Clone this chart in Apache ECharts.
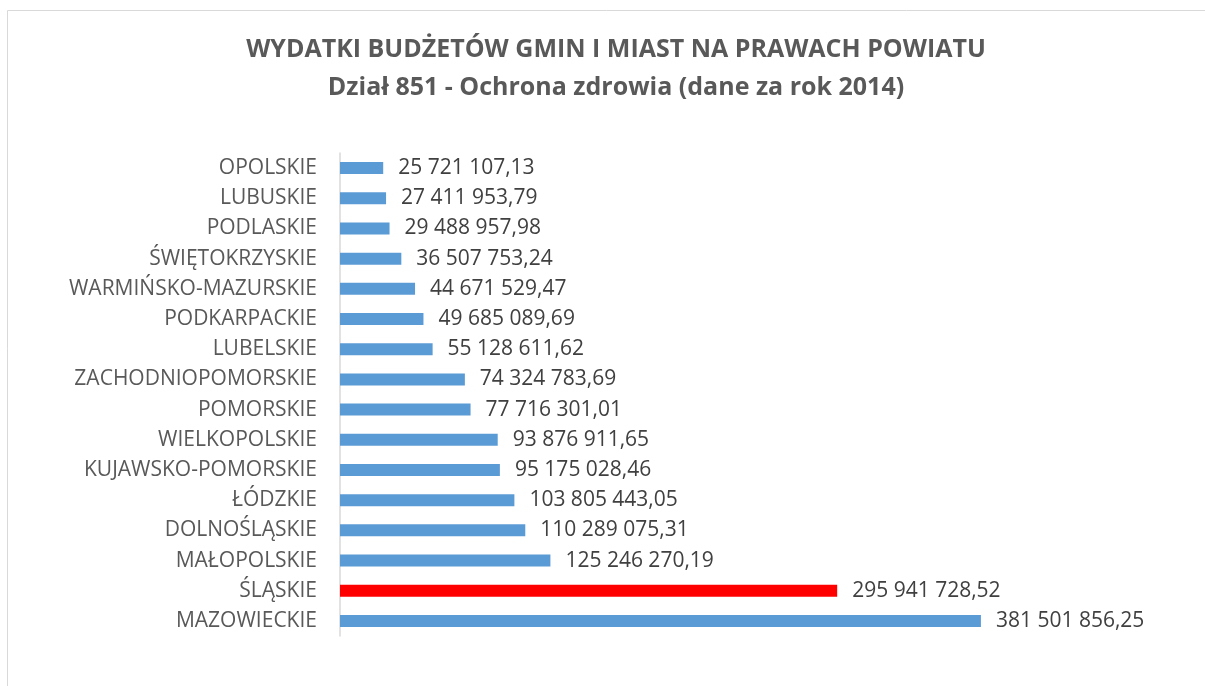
<!DOCTYPE html>
<html>
<head>
<meta charset="utf-8">
<script src="https://cdn.jsdelivr.net/npm/echarts@6/dist/echarts.min.js"></script>
<style>
  * { margin: 0; padding: 0; }
  html, body { background: #fff; }
  #chart { width: 1205px; height: 686px; }
</style>
</head>
<body>
<div id="chart"></div>
<script>
// wojewodztwa, top to bottom as drawn
const regions = [
  'OPOLSKIE', 'LUBUSKIE', 'PODLASKIE', 'ŚWIĘTOKRZYSKIE', 'WARMIŃSKO-MAZURSKIE',
  'PODKARPACKIE', 'LUBELSKIE', 'ZACHODNIOPOMORSKIE', 'POMORSKIE', 'WIELKOPOLSKIE',
  'KUJAWSKO-POMORSKIE', 'ŁÓDZKIE', 'DOLNOŚLĄSKIE', 'MAŁOPOLSKIE', 'ŚLĄSKIE', 'MAZOWIECKIE'
]
const spending = [
  25721107.13, 27411953.79, 29488957.98, 36507753.24, 44671529.47,
  49685089.69, 55128611.62, 74324783.69, 77716301.01, 93876911.65,
  95175028.46, 103805443.05, 110289075.31, 125246270.19, 295941728.52, 381501856.25
]
const highlighted = 'ŚLĄSKIE'

const fmt = v => {
  const [int, dec] = v.toFixed(2).split('.')
  return int.replace(/\B(?=(\d{3})+(?!\d))/g, ' ') + ',' + dec
}

const chart = echarts.init(document.getElementById('chart'))
chart.setOption({
  animation: false,
  textStyle: { fontFamily: 'Open Sans' },
  title: {
    text: 'WYDATKI BUDŻETÓW GMIN I MIAST NA PRAWACH POWIATU\nDział 851 - Ochrona zdrowia (dane za rok 2014)',
    left: 611,
    top: 26,
    textAlign: 'center',
    textStyle: { fontSize: 25, fontWeight: 'bold', color: '#595959', lineHeight: 38 }
  },
  graphic: [{
    type: 'rect',
    shape: { x: 7.5, y: 10.5, width: 1300, height: 800 },
    style: { fill: 'none', stroke: '#d9d9d9', lineWidth: 1 },
    silent: true
  }],
  grid: { left: 340, top: 153, width: 672, height: 483 },
  xAxis: {
    type: 'value',
    min: 0,
    max: 400000000,
    show: false
  },
  yAxis: {
    type: 'category',
    inverse: true,
    data: regions,
    axisLine: { lineStyle: { color: '#d9d9d9', width: 1.5 } },
    axisTick: { show: false },
    axisLabel: { fontSize: 21, color: '#595959', margin: 23 }
  },
  series: [{
    type: 'bar',
    data: spending,
    barWidth: 12,
    itemStyle: {
      color: p => p.name === highlighted ? '#ff0000' : '#5b9bd5'
    },
    label: {
      show: true,
      position: 'right',
      distance: 15,
      fontSize: 21,
      color: '#404040',
      formatter: p => fmt(p.value)
    }
  }]
})
</script>
</body>
</html>
